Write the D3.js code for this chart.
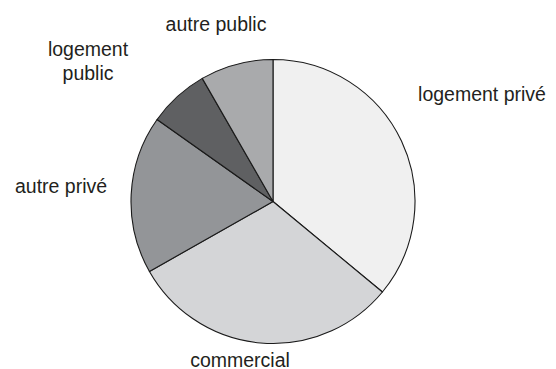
<!DOCTYPE html>
<html>
<head>
<meta charset="utf-8">
<script src="https://cdn.jsdelivr.net/npm/d3@7/dist/d3.min.js"></script>
<style>
  html, body { margin: 0; padding: 0; background: #fff; }
  svg { display: block; }
  text { font-family: "Liberation Sans", Arial, Helvetica, sans-serif; fill: #231f20; }
</style>
</head>
<body>
<svg id="chart" width="556" height="369"></svg>
<script>
// Data
const categories = ["logement privé", "commercial", "autre privé", "logement public", "autre public"];
const values = [36.0, 30.8, 18.0, 6.9, 8.3];
const colors = ["#f0f0f0", "#d4d5d7", "#939598", "#5f6062", "#a9aaac"];

// Layout
const W = 556, H = 369;
const cx = 273, cy = 201.5, R = 142;
const fontSize = 19.5;
// label anchor (dx, dy from pie centre, text-anchor middle), multi-line via "\n"
const labelLines = [["logement privé"], ["commercial"], ["autre privé"], ["logement", "public"], ["autre public"]];
const labelOffsets = [[209, -101], [-33, 165], [-212, -8.5], [-185, -145.5], [-57, -171]];

const svg = d3.select("#chart");
const g = svg.append("g").attr("transform", `translate(${cx},${cy})`);

const pie = d3.pie().sort(null).value(d => d.v);
const arcs = pie(categories.map((c, i) => ({ c, v: values[i], i })));
const arc = d3.arc().innerRadius(0).outerRadius(R);

g.selectAll("path.slice").data(arcs).join("path")
  .attr("class", "slice")
  .attr("d", arc)
  .attr("fill", d => colors[d.data.i])
  .attr("stroke", "#1a1a1a")
  .attr("stroke-width", 1.1)
  .attr("stroke-linejoin", "round");

const lineH = 24;
arcs.forEach(d => {
  const i = d.data.i;
  const [dx, dy] = labelOffsets[i];
  const t = g.append("text")
    .attr("text-anchor", "middle")
    .attr("font-size", fontSize)
    .attr("x", dx).attr("y", dy);
  labelLines[i].forEach((ln, k) => {
    t.append("tspan").attr("x", dx).attr("y", dy + k * lineH).text(ln);
  });
});
</script>
</body>
</html>
